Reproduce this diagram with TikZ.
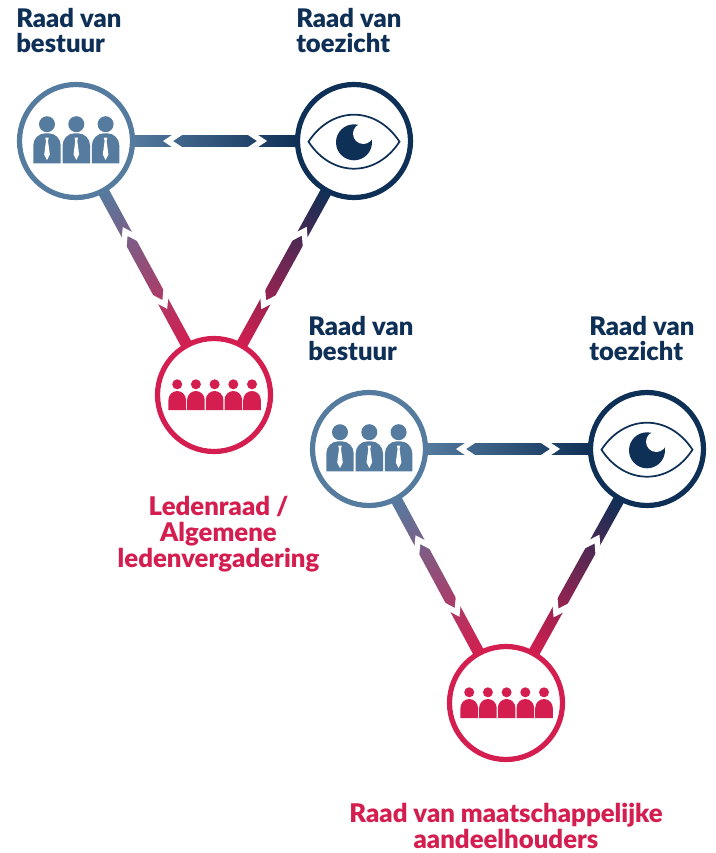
\documentclass[tikz,border=0pt]{standalone}
\usepackage{fontspec}
\setmainfont{Lato}[BoldFont={Lato Black}]
\definecolor{bluegrey}{HTML}{557B9F}
\definecolor{navy}{HTML}{0E2F56}
\definecolor{crimson}{HTML}{D31E4F}
\newcommand\linkbar[5]{%
  \pgfmathanglebetweenpoints{\pgfpointanchor{#1}{center}}{\pgfpointanchor{#2}{center}}%
  \let\lkang\pgfmathresult
  \pgfpointdiff{\pgfpointanchor{#1}{center}}{\pgfpointanchor{#2}{center}}%
  \pgfgetlastxy{\lkx}{\lky}%
  \pgfmathsetmacro\lklen{veclen(\lkx,\lky)/0.75}%
  \begin{scope}[transform canvas={shift={(#1.center)},rotate=\lkang}]
    \shade[left color=#3,right color=#4] (56,-5.75) rectangle ({\lklen-56},5.75);
    \fill[white] ({#5-5},0)--({#5+6.25},7.5)--({#5+16.25},7.5)--({#5+5},0)--({#5+16.25},-7.5)--({#5+6.25},-7.5)--cycle;
    \fill[white] ({\lklen-#5+5},0)--({\lklen-#5-6.25},7.5)--({\lklen-#5-16.25},7.5)--({\lklen-#5-5},0)--({\lklen-#5-16.25},-7.5)--({\lklen-#5-6.25},-7.5)--cycle;
  \end{scope}}
\tikzset{
  ring/.style={circle,draw=#1,fill=white,line width=3.9pt,minimum size=84.75pt,inner sep=0pt},
  lbl/.style={font=\fontsize{19.2}{19}\selectfont\bfseries,inner sep=0pt,text=#1},
  lblwide/.style={font=\fontsize{19.3}{19.7}\selectfont\bfseries,inner sep=0pt,text=#1},
  man/.pic={
    \fill[bluegrey] (0,-17.3) circle (8);
    \fill[bluegrey] (-13.7,21.8) -- (-13.7,4) arc[start angle=180,end angle=90,x radius=12,y radius=-12.2] -- (1.7,-8.2) arc[start angle=90,end angle=0,x radius=12,y radius=-12.2] -- (13.7,21.8) -- cycle;
    \fill[white] (-1.7,-3.8) -- (1.7,-3.8) -- (1,-0.5) -- (2.8,13) -- (0,18.5) -- (-2.8,13) -- (-1,-0.5) -- cycle;
  },
  boardicon/.pic={
    \foreach \i in {-29.3,0,29.3} {\pic at (\i,0) {man};}
  },
  member/.pic={
    \fill[crimson] (0,-10.7) circle (5);
    \fill[crimson] (-8.8,15) -- (-8.8,5) arc[start angle=180,end angle=0,x radius=8.8,y radius=-9] -- (8.8,15) -- cycle;
  },
  membersicon/.pic={
    \foreach \i in {-37.4,-18.7,0,18.7,37.4} {\pic at (\i,0) {member};}
  },
  eyeicon/.pic={
    \draw[navy,line width=1.3pt,fill=white] (-45.5,0) .. controls (-22,-36) and (22,-36) .. (45.5,0) .. controls (22,36) and (-22,36) .. (-45.5,0) -- cycle;
    \fill[navy] (0,0.6) circle (18);
    \fill[white] (9.3,-8) circle (10.3);
  }
}
\begin{document}
\begin{tikzpicture}[x=0.75pt,y=-0.75pt]
\useasboundingbox (0,0) rectangle (716,853);
% first triangle
\node[ring=bluegrey] (b1) at (76,141) {};
\node[ring=navy] (t1) at (354,141) {};
\node[ring=crimson] (m1) at (214,395) {};
\linkbar{b1}{t1}{bluegrey}{navy}{92}
\linkbar{b1}{m1}{bluegrey}{crimson}{103}
\linkbar{t1}{m1}{navy}{crimson}{103}
\pic at (76.3,141.5) {boardicon};
\pic at (354,141.7) {eyeicon};
\pic at (214.6,395) {membersicon};
\node[lbl=navy,anchor=north west,align=left] (tb1) at (16,8) {Raad van\\bestuur};
\node[lbl=navy,anchor=north west,align=left] (tt1) at (296,8) {Raad van\\toezicht};
\node[lblwide=crimson,anchor=north,align=center] (tm1) at (218.5,495.5) {Ledenraad /\\Algemene\\ledenvergadering};
% second triangle
\node[ring=bluegrey] (b2) at (369,449) {};
\node[ring=navy] (t2) at (647,449) {};
\node[ring=crimson] (m2) at (506,703) {};
\linkbar{b2}{t2}{bluegrey}{navy}{92}
\linkbar{b2}{m2}{bluegrey}{crimson}{103}
\linkbar{t2}{m2}{navy}{crimson}{103}
\pic at (369.3,449.5) {boardicon};
\pic at (647,449.7) {eyeicon};
\pic at (506.6,703) {membersicon};
\node[lbl=navy,anchor=north west,align=left] (tb2) at (308,316) {Raad van\\bestuur};
\node[lbl=navy,anchor=north west,align=left] (tt2) at (589,316) {Raad van\\toezicht};
\node[lblwide=crimson,anchor=north,align=center] (tm2) at (506,803) {Raad van maatschappelijke\\aandeelhouders};
\end{tikzpicture}
\end{document}
